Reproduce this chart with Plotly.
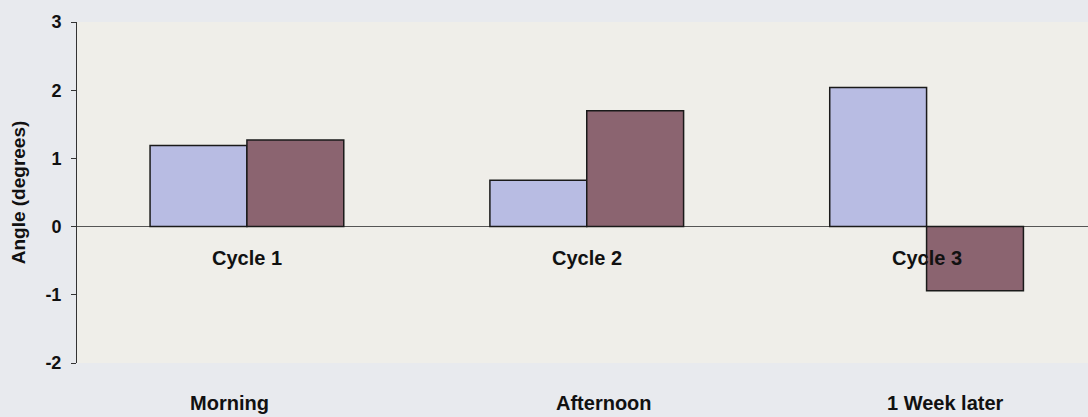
import plotly.graph_objects as go

# data
cycles = ["Cycle 1", "Cycle 2", "Cycle 3"]
sessions = ["Morning", "Afternoon", "1 Week later"]
series_a = [1.19, 0.68, 2.04]
series_b = [1.27, 1.70, -0.94]
y_ticks = [-2, -1, 0, 1, 2, 3]
y_tick_text = ["-2", "-1", "0", "1", "2", "3"]

FONT = "Liberation Sans, Arial, sans-serif"

fig = go.Figure()
fig.add_trace(go.Bar(x=cycles, y=series_a, name="A",
                     marker=dict(color="#b8bce3", line=dict(color="#1a1a1a", width=1.5))))
fig.add_trace(go.Bar(x=cycles, y=series_b, name="B",
                     marker=dict(color="#8b6470", line=dict(color="#1a1a1a", width=1.5))))

# category labels sit at the zero line, Excel style
for c in cycles:
    fig.add_annotation(x=c, y=0, xref="x", yref="y", text=f"<b>{c}</b>",
                       showarrow=False, yanchor="middle", yshift=-31,
                       font=dict(family=FONT, size=20, color="#111"))

# second row of labels under the plot
session_x = [-0.052, 1.052, 2.057]
for s, xp in zip(sessions, session_x):
    fig.add_annotation(x=xp, y=-0.117, xref="x", yref="paper", text=f"<b>{s}</b>",
                       showarrow=False, yanchor="middle",
                       font=dict(family=FONT, size=20, color="#111"))

fig.update_layout(
    width=1088, height=417,
    margin=dict(l=77, r=0, t=22, b=54),
    barmode="group", bargap=0.43, bargroupgap=0,
    showlegend=False,
    paper_bgcolor="#e8eaee",
    plot_bgcolor="#efeee9",
    font=dict(family=FONT, color="#111"),
)
fig.update_xaxes(range=[-0.5, 2.475], showticklabels=False, showgrid=False,
                 zeroline=False, showline=False, ticks="")
fig.update_yaxes(range=[-2, 3], tickvals=y_ticks, ticktext=y_tick_text, showgrid=False,
                 zeroline=True, zerolinecolor="#555", zerolinewidth=1,
                 showline=True, linecolor="#333", linewidth=1,
                 ticks="outside", ticklen=5, tickcolor="#333", ticklabelstandoff=6,
                 tickfont=dict(family=FONT, size=18, weight="bold"),
                 title=dict(text="<b>Angle (degrees)</b>", standoff=14,
                            font=dict(family=FONT, size=19)))

# drop the default page margin so the figure sits at the window origin
fig.write_html("out.html", config={"displayModeBar": False},
               post_script="document.body.style.margin='0';"
                           "document.body.style.background='#e8eaee';")
